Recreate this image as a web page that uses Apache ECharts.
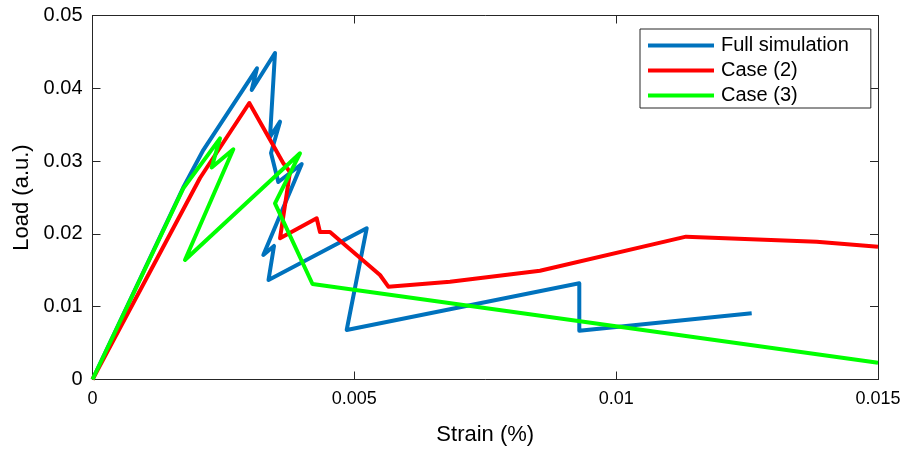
<!DOCTYPE html>
<html>
<head>
<meta charset="utf-8">
<script src="https://cdn.jsdelivr.net/npm/echarts@6/dist/echarts.min.js"></script>
<style>html,body{margin:0;padding:0;background:#fff}#c{width:907px;height:450px}</style>
</head>
<body>
<div id="c"></div>
<script>
const xTicks = [0, 0.005, 0.01, 0.015];
const yTicks = [0, 0.01, 0.02, 0.03, 0.04, 0.05];
const seriesNames = ['Full simulation', 'Case (2)', 'Case (3)'];

const fullX = [0, 0.001728, 0.002116, 0.003141, 0.003040, 0.003485, 0.003390, 0.003581, 0.003409, 0.003548, 0.003995, 0.003262, 0.003466, 0.003361, 0.005236, 0.004854, 0.009296, 0.009296, 0.012588];
const fullY = [0, 0.02630, 0.03152, 0.04275, 0.03977, 0.04485, 0.03331, 0.03541, 0.03111, 0.02713, 0.02960, 0.01710, 0.01834, 0.01367, 0.02077, 0.00680, 0.01321, 0.00670, 0.00909];

const case2X = [0, 0.002053, 0.002994, 0.003644, 0.003771, 0.003581, 0.004281, 0.004344, 0.004535, 0.005490, 0.005649, 0.006827, 0.008545, 0.011334, 0.013829, 0.015];
const case2Y = [0, 0.02768, 0.03798, 0.02970, 0.02850, 0.01940, 0.02214, 0.02026, 0.02026, 0.01435, 0.01275, 0.01343, 0.01494, 0.01962, 0.01893, 0.01824];

const case3X = [0, 0.001734, 0.002435, 0.002276, 0.002689, 0.001766, 0.003962, 0.003485, 0.004201, 0.015];
const case3Y = [0, 0.02626, 0.03313, 0.02912, 0.03162, 0.01641, 0.03107, 0.02420, 0.01312, 0.00231];

const colors = ['#0072BD', '#FF0000', '#00FF00'];
const pairs = (xs, ys) => xs.map((x, i) => [x, ys[i]]);
const dataSets = [pairs(fullX, fullY), pairs(case2X, case2Y), pairs(case3X, case3Y)];

const FONT = 'Liberation Sans, Arial, Helvetica, sans-serif';
const axisCol = '#262626';
const fmt = v => String(Math.round(v * 1e6) / 1e6);

const chart = echarts.init(document.getElementById('c'), null, {renderer: 'canvas'});
const baseX = {
  type: 'value', min: xTicks[0], max: xTicks[xTicks.length - 1], interval: 0.005,
  axisLine: {show: true, onZero: false, lineStyle: {color: axisCol, width: 1}},
  axisTick: {show: true, inside: true, length: 8, lineStyle: {color: axisCol}},
  splitLine: {show: false}
};
const baseY = {
  type: 'value', min: yTicks[0], max: yTicks[yTicks.length - 1], interval: 0.01,
  axisLine: {show: true, onZero: false, lineStyle: {color: axisCol, width: 1}},
  axisTick: {show: true, inside: true, length: 8, lineStyle: {color: axisCol}},
  splitLine: {show: false}
};
chart.setOption({
  animation: false,
  backgroundColor: '#fff',
  grid: {left: 92.5, right: 29, top: 15.5, bottom: 70.5, containLabel: false, outerBoundsMode: 'none'},
  legend: {
    data: seriesNames,
    orient: 'vertical',
    left: 640, top: 29,
    icon: 'rect',
    itemWidth: 66, itemHeight: 4,
    itemGap: 4,
    padding: [6, 22, 2, 8],
    borderColor: axisCol, borderWidth: 1,
    backgroundColor: '#fff',
    textStyle: {fontFamily: FONT, fontSize: 20, color: '#000', lineHeight: 21, padding: [0, 0, 0, 2]}
  },
  xAxis: [
    Object.assign({}, baseX, {
      position: 'bottom',
      axisLabel: {show: true, margin: 11, fontFamily: FONT, fontSize: 18, color: '#000', formatter: fmt},
      name: 'Strain (%)', nameLocation: 'middle', nameGap: 44,
      nameTextStyle: {fontFamily: FONT, fontSize: 22, color: '#000'}
    }),
    Object.assign({}, baseX, {position: 'top', axisLabel: {show: false}})
  ],
  yAxis: [
    Object.assign({}, baseY, {
      position: 'left',
      axisLabel: {show: true, margin: 10, fontFamily: FONT, fontSize: 20, color: '#000', formatter: fmt},
      name: 'Load (a.u.)', nameLocation: 'middle', nameGap: 60,
      nameTextStyle: {fontFamily: FONT, fontSize: 22, color: '#000'}
    }),
    Object.assign({}, baseY, {position: 'right', axisLabel: {show: false}})
  ],
  series: seriesNames.map((n, i) => ({
    name: n, type: 'line', data: dataSets[i],
    xAxisIndex: 0, yAxisIndex: 0,
    showSymbol: false, symbol: 'none',
    color: colors[i],
    lineStyle: {color: colors[i], width: 4, join: 'round'},
    itemStyle: {color: colors[i]},
    z: 3 + i
  }))
});
</script>
</body>
</html>
